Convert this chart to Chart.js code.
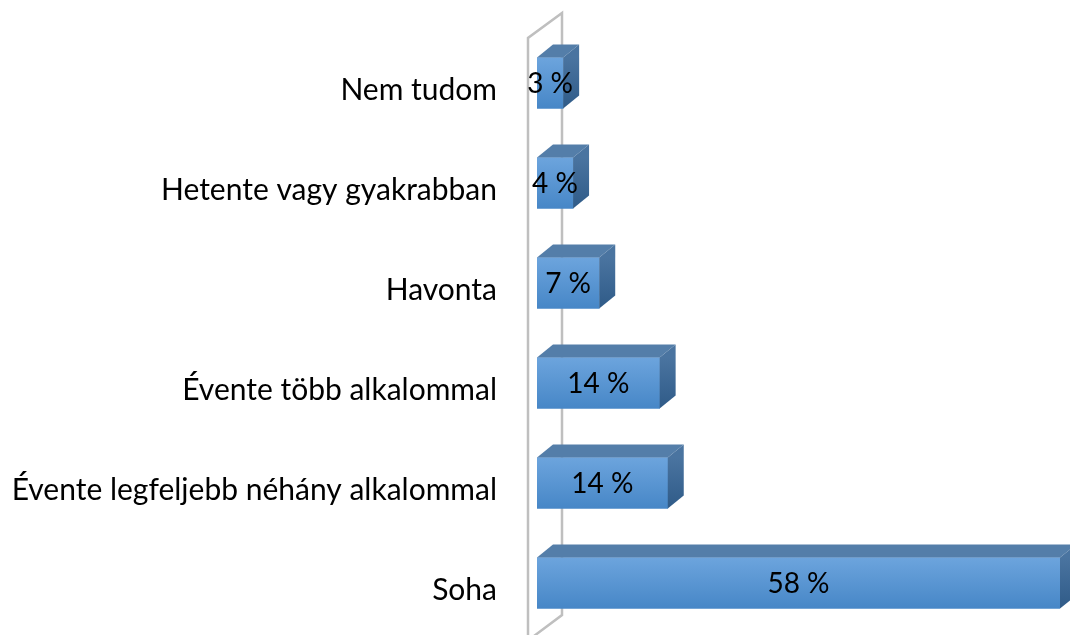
<!DOCTYPE html>
<html>
<head>
<meta charset="utf-8">
<script src="https://cdn.jsdelivr.net/npm/chart.js@4.4.1/dist/chart.umd.min.js"></script>
<style>
  html, body { margin: 0; padding: 0; background: #fff; }
  #wrap { width: 1070px; height: 635px; position: relative; }
</style>
</head>
<body>
<div id="wrap"><canvas id="chart"></canvas></div>
<script>
// data (top to bottom)
const categories = [
    'Nem tudom',
    'Hetente vagy gyakrabban',
    'Havonta',
    'Évente több alkalommal',
    'Évente legfeljebb néhány alkalommal',
    'Soha'
];
const values = [2.9, 4.0, 6.9, 13.6, 14.5, 58];
const valueLabels = ['3 %', '4 %', '7 %', '14 %', '14 %', '58 %'];

const FONT = "Lato, 'Open Sans', sans-serif";
const DEPTH_X = 16;
const DEPTH_Y = 13;

// back wall of the 3D plot
const wallPlugin = {
    id: 'wall',
    beforeDatasetsDraw(chart) {
        const ctx = chart.ctx;
        const area = chart.chartArea;
        const x0 = area.left - 9;
        ctx.save();
        ctx.strokeStyle = '#bfbfbf';
        ctx.lineWidth = 2.5;
        ctx.beginPath();
        ctx.moveTo(x0, chart.height + 5);
        ctx.lineTo(x0, area.top + 5);
        ctx.lineTo(x0 + 34, area.top - 20);
        ctx.lineTo(x0 + 34, area.bottom - 18);
        ctx.lineTo(x0 + 2, area.bottom + 6);
        ctx.stroke();
        ctx.restore();
    }
};

// top and side faces, plus value labels
const bar3dPlugin = {
    id: 'bar3d',
    afterDatasetsDraw(chart) {
        const ctx = chart.ctx;
        const meta = chart.getDatasetMeta(0);
        ctx.save();
        meta.data.forEach((bar, i) => {
            const p = bar.getProps(['x', 'y', 'base', 'height'], true);
            const left = p.base;
            const right = p.x;
            const top = p.y - p.height / 2;
            const bottom = p.y + p.height / 2;

            // top face
            ctx.fillStyle = '#547ea9';
            ctx.beginPath();
            ctx.moveTo(left, top);
            ctx.lineTo(left + DEPTH_X, top - DEPTH_Y);
            ctx.lineTo(right + DEPTH_X, top - DEPTH_Y);
            ctx.lineTo(right, top);
            ctx.closePath();
            ctx.fill();

            // side face
            const g = ctx.createLinearGradient(0, top, 0, bottom);
            g.addColorStop(0, '#4a74a0');
            g.addColorStop(1, '#2f5b88');
            ctx.fillStyle = g;
            ctx.beginPath();
            ctx.moveTo(right, top);
            ctx.lineTo(right + DEPTH_X, top - DEPTH_Y);
            ctx.lineTo(right + DEPTH_X, bottom - DEPTH_Y);
            ctx.lineTo(right, bottom);
            ctx.closePath();
            ctx.fill();

            // value label
            ctx.fillStyle = '#000';
            ctx.font = '28px ' + FONT;
            ctx.textAlign = 'center';
            ctx.textBaseline = 'middle';
            ctx.fillText(valueLabels[i], (left + right) / 2, p.y + 1);
        });
        ctx.restore();
    }
};

const ctx = document.getElementById('chart').getContext('2d');
const frontGradient = (context) => {
    const chart = context.chart;
    const yScale = chart.scales.y;
    if (!chart.chartArea || !yScale) return '#5b96d4';
    const y = yScale.getPixelForValue(context.dataIndex);
    if (!isFinite(y)) return '#5b96d4';
    const g = chart.ctx.createLinearGradient(0, y - 25, 0, y + 25);
    g.addColorStop(0, '#6ca4dd');
    g.addColorStop(1, '#4787c7');
    return g;
};

new Chart(ctx, {
    type: 'bar',
    data: {
        labels: categories,
        datasets: [{
            data: values,
            backgroundColor: frontGradient,
            borderWidth: 0,
            barThickness: 51
        }]
    },
    options: {
        indexAxis: 'y',
        responsive: true,
        maintainAspectRatio: false,
        animation: false,
        layout: { padding: { top: 33, bottom: 2, right: 10 } },
        plugins: {
            legend: { display: false },
            tooltip: { enabled: false }
        },
        scales: {
            x: {
                min: 0,
                max: 58,
                display: false
            },
            y: {
                grid: { display: false, drawTicks: false },
                border: { display: false },
                ticks: {
                    color: '#000',
                    font: { family: FONT, size: 30 },
                    padding: 40,
                    labelOffset: 7
                },
                afterFit(scale) {
                    scale.width = 537;
                    scale.paddingTop = 0;
                    scale.paddingBottom = 0;
                }
            }
        }
    },
    plugins: [wallPlugin, bar3dPlugin]
});
</script>
</body>
</html>
